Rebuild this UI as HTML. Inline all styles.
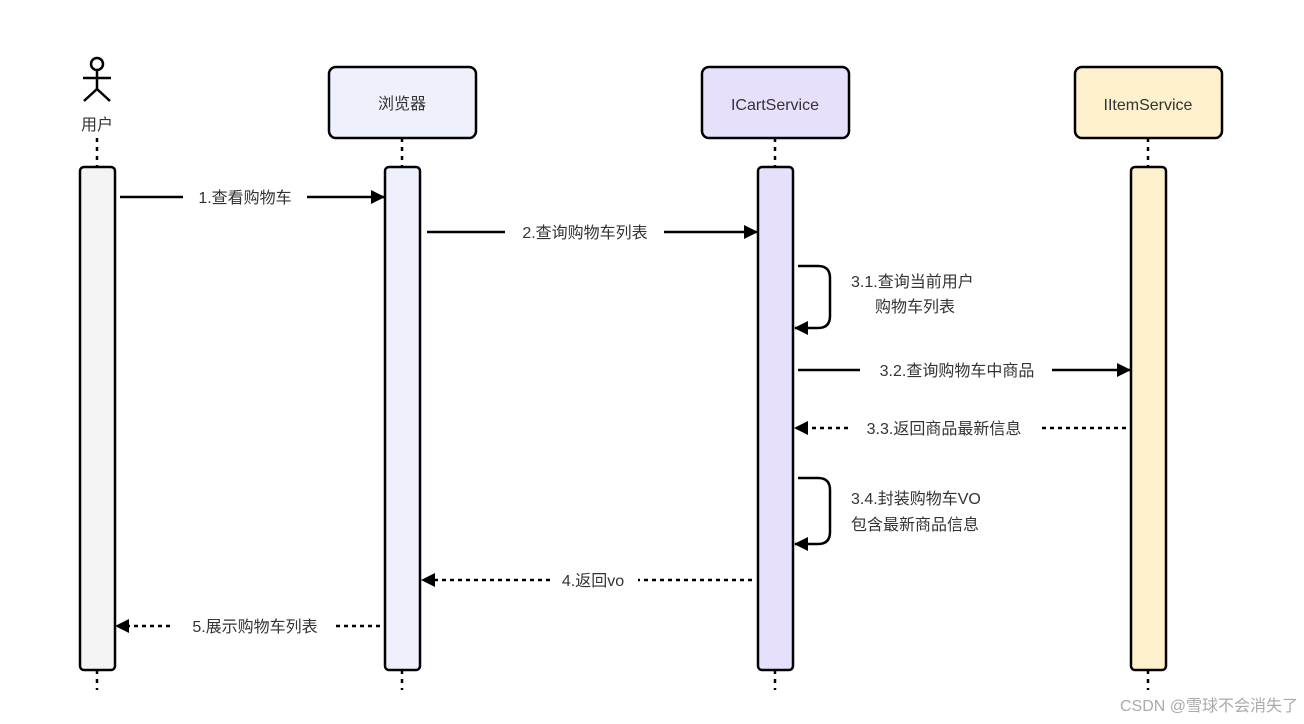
<!DOCTYPE html>
<html><head><meta charset="utf-8"><style>
html,body{margin:0;padding:0;background:#fff;width:1304px;height:724px;overflow:hidden}
text{font-family:"Liberation Sans","Noto Sans CJK SC",sans-serif;fill:#333;font-size:16px}
</style></head><body>
<svg width="1304" height="724" viewBox="0 0 1304 724" xmlns="http://www.w3.org/2000/svg">
<defs><marker id="a" markerWidth="14" markerHeight="14" refX="13" refY="7" orient="auto" markerUnits="userSpaceOnUse"><path d="M0,0 L14,7 L0,14 z" fill="#000"/></marker></defs>
<g stroke="#000" stroke-width="2.5" stroke-dasharray="4,5" fill="none">
<line x1="97" y1="138" x2="97" y2="167"/><line x1="97" y1="670" x2="97" y2="690"/>
<line x1="402" y1="138" x2="402" y2="167"/><line x1="402" y1="670" x2="402" y2="690"/>
<line x1="775" y1="138" x2="775" y2="167"/><line x1="775" y1="670" x2="775" y2="690"/>
<line x1="1148" y1="138" x2="1148" y2="167"/><line x1="1148" y1="670" x2="1148" y2="690"/>
</g>
<g stroke="#000" stroke-width="2.5" fill="none">
<circle cx="97" cy="64" r="6"/><line x1="97" y1="70" x2="97" y2="89"/><line x1="83" y1="78" x2="111" y2="78"/><line x1="84" y1="101" x2="97" y2="89"/><line x1="110" y1="101" x2="97" y2="89"/>
</g>
<text x="97" y="130" text-anchor="middle" font-size="15">用户</text>
<g stroke="#000" stroke-width="2.5">
<rect x="329" y="67" width="147" height="71" rx="7" fill="#eef1fc"/>
<rect x="702" y="67" width="147" height="71" rx="7" fill="#e6e0fd"/>
<rect x="1075" y="67" width="147" height="71" rx="7" fill="#fdf0cc"/>
<rect x="80" y="167" width="35" height="503" rx="4" fill="#f4f4f4"/>
<rect x="385" y="167" width="35" height="503" rx="4" fill="#eef1fc"/>
<rect x="758" y="167" width="35" height="503" rx="4" fill="#e6e0fd"/>
<rect x="1131" y="167" width="35" height="503" rx="4" fill="#fdf0cc"/>
</g>
<text x="402" y="109" text-anchor="middle">浏览器</text>
<text x="775" y="110" text-anchor="middle">ICartService</text>
<text x="1148" y="110" text-anchor="middle">IItemService</text>
<g stroke="#000" stroke-width="2.5" fill="none">
<line x1="120" y1="197" x2="183" y2="197"/><line x1="307" y1="197" x2="384" y2="197" marker-end="url(#a)"/>
<line x1="427" y1="232" x2="505" y2="232"/><line x1="664" y1="232" x2="757" y2="232" marker-end="url(#a)"/>
<path d="M798,266 H818 Q830,266 830,278 V316 Q830,328 818,328 H795" marker-end="url(#a)"/>
<line x1="798" y1="370" x2="860" y2="370"/><line x1="1052" y1="370" x2="1130" y2="370" marker-end="url(#a)"/>
<path d="M798,478 H818 Q830,478 830,490 V532 Q830,544 818,544 H795" marker-end="url(#a)"/>
</g>
<g stroke="#000" stroke-width="2.5" fill="none" stroke-dasharray="4,4">
<line x1="1126" y1="428" x2="1040" y2="428"/><line x1="848" y1="428" x2="795" y2="428" marker-end="url(#a)"/>
<line x1="752" y1="580" x2="638" y2="580"/><line x1="550" y1="580" x2="422" y2="580" marker-end="url(#a)"/>
<line x1="380" y1="626" x2="333" y2="626"/><line x1="170" y1="626" x2="116" y2="626" marker-end="url(#a)"/>
</g>
<text x="245" y="203" text-anchor="middle">1.查看购物车</text>
<text x="585" y="238" text-anchor="middle">2.查询购物车列表</text>
<text x="851" y="287">3.1.查询当前用户</text>
<text x="875" y="312">购物车列表</text>
<text x="957" y="376" text-anchor="middle">3.2.查询购物车中商品</text>
<text x="944" y="434" text-anchor="middle">3.3.返回商品最新信息</text>
<text x="851" y="504">3.4.封装购物车VO</text>
<text x="851" y="530">包含最新商品信息</text>
<text x="593" y="586" text-anchor="middle">4.返回vo</text>
<text x="255" y="632" text-anchor="middle">5.展示购物车列表</text>
<text x="1298" y="711" text-anchor="end" font-size="22" style="fill:#aaa">CSDN @雪球不会消失了</text>
</svg>
</body></html>
